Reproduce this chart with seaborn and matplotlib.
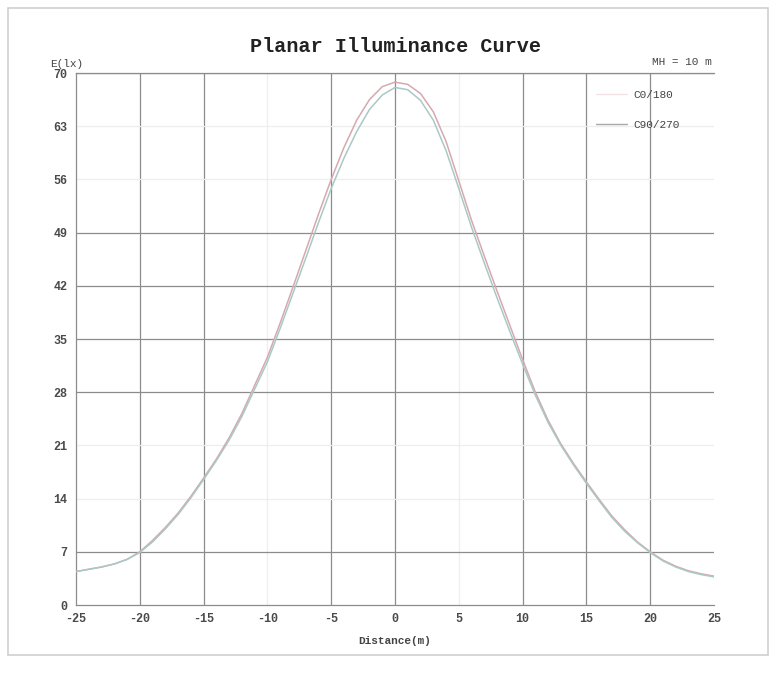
import numpy as np
import pandas as pd
import matplotlib
matplotlib.use("Agg")
import matplotlib.pyplot as plt
from matplotlib.patches import Rectangle
import seaborn as sns

# ---- data ----
distance = list(range(-25, 26))
c0_180 = [4.4, 4.7, 5.0, 5.4, 6.0, 7.0, 8.5, 10.2, 12.1, 14.3, 16.7, 19.2, 22.0, 25.2,
          28.9, 32.6, 37.1, 41.8, 46.6, 51.4, 56.0, 60.2, 63.8, 66.5, 68.2, 68.8, 68.5,
          67.3, 64.9, 61.0, 55.8, 50.6, 45.9, 41.3, 36.8, 32.3, 28.0, 24.3, 21.2, 18.6,
          16.2, 13.9, 11.7, 9.9, 8.3, 7.0, 5.9, 5.1, 4.5, 4.1, 3.8]
c90_270 = [4.4, 4.7, 5.0, 5.4, 6.0, 6.9, 8.3, 10.0, 11.9, 14.1, 16.5, 19.0, 21.7, 24.8,
           28.4, 32.0, 36.4, 41.0, 45.6, 50.3, 54.8, 58.8, 62.3, 65.2, 67.1, 68.1, 67.8,
           66.4, 63.8, 59.8, 54.8, 49.7, 45.0, 40.4, 36.0, 31.7, 27.6, 24.0, 21.0, 18.4,
           16.0, 13.7, 11.5, 9.7, 8.2, 6.9, 5.8, 5.0, 4.4, 4.0, 3.7]
series_names = ["C0/180", "C90/270"]
x_ticks = [-25, -20, -15, -10, -5, 0, 5, 10, 15, 20, 25]
y_ticks = [0, 7, 14, 21, 28, 35, 42, 49, 56, 63, 70]
strong_x_grid = [-20, -15, -5, 0, 10, 15, 20]
strong_y_grid = [7, 28, 35, 42, 49, 70]

df = pd.DataFrame({
    "Distance": distance * 2,
    "E": c0_180 + c90_270,
    "Curve": [series_names[0]] * len(distance) + [series_names[1]] * len(distance),
})

sns.set_theme(style="white")
mono = "Liberation Mono"
plt.rcParams["font.family"] = [mono, "DejaVu Sans Mono"]

fig = plt.figure(figsize=(7.75, 6.73), dpi=100)
fig.patch.set_facecolor("white")
ax = fig.add_axes([76 / 775, 1 - 605 / 673, (714 - 76) / 775, (605 - 73) / 673])

# outer frame
fig.patches.append(Rectangle((8 / 775, 1 - 655 / 673), (768 - 8) / 775, (655 - 8) / 673,
                             transform=fig.transFigure, fill=False,
                             edgecolor="#cfcfcf", linewidth=1.2))

# grid
for gx in x_ticks[1:-1]:
    col = "#8c8c8c" if gx in strong_x_grid else "#eeeeee"
    ax.axvline(gx, color=col, linewidth=0.9, zorder=1)
for gy in y_ticks[1:]:
    col = "#8c8c8c" if gy in strong_y_grid else "#eeeeee"
    ax.axhline(gy, color=col, linewidth=0.9, zorder=1)

palette = {"C0/180": "#d6a9ae", "C90/270": "#a9c9c6"}
sns.lineplot(data=df, x="Distance", y="E", hue="Curve", palette=palette,
             linewidth=1.1, ax=ax, zorder=3, legend=False)
ax.plot([], [], color="#f2e2e4", linewidth=1.0, label="C0/180")
ax.plot([], [], color="#a8a8a8", linewidth=1.0, label="C90/270")

ax.set_xlim(-25, 25)
ax.set_ylim(0, 70)
ax.set_xticks(x_ticks)
ax.set_yticks(y_ticks)
ax.set_xticklabels([str(t) for t in x_ticks])
ax.set_yticklabels([str(t) for t in y_ticks])
ax.tick_params(axis="both", labelsize=8.5, colors="#444444", length=0, pad=6)
for lab in ax.get_xticklabels() + ax.get_yticklabels():
    lab.set_fontweight("bold")
    lab.set_color("#4a4a4a")

ax.spines["right"].set_visible(False)
for side in ["left", "bottom", "top"]:
    ax.spines[side].set_color("#8c8c8c")
    ax.spines[side].set_linewidth(0.9)

ax.set_xlabel("Distance(m)", fontsize=8, color="#444444", labelpad=8, fontweight="bold")
ax.set_ylabel("")

fig.text(395 / 775, 1 - 47 / 673, "Planar Illuminance Curve", ha="center", va="center",
         fontsize=14.5, fontweight="bold", color="#222222")
fig.text(50 / 775, 1 - 64 / 673, "E(lx)", ha="left", va="center", fontsize=8,
         color="#444444")
fig.text(712 / 775, 1 - 62 / 673, "MH = 10 m", ha="right", va="center", fontsize=8,
         color="#444444")

leg = ax.legend(loc="upper left", bbox_to_anchor=((596 - 76) / 638, (605 - 90) / 532),
                frameon=False, fontsize=8, handlelength=2.8, handletextpad=0.6,
                labelspacing=1.8, borderpad=0, borderaxespad=0)
for t in leg.get_texts():
    t.set_color("#444444")

fig.savefig("out.png", dpi=100, facecolor="white")
